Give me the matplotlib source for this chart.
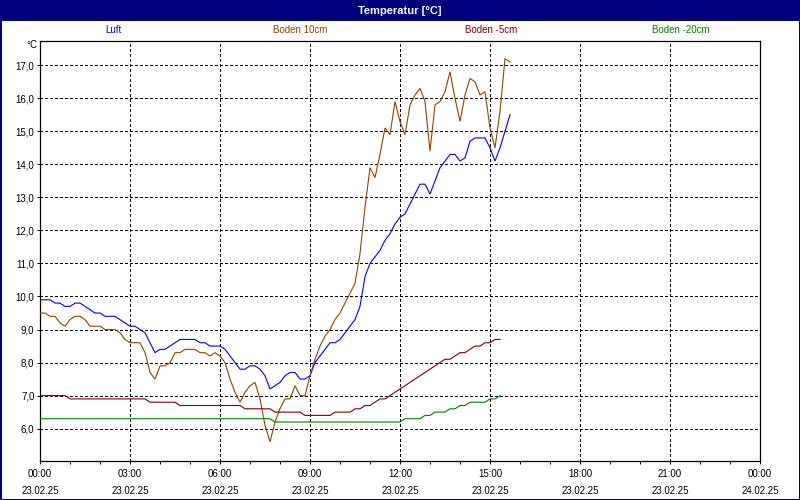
import numpy as np
import matplotlib.pyplot as plt
from matplotlib.patches import Rectangle
from matplotlib.ticker import MultipleLocator, FixedLocator, FuncFormatter

# time of each reading, minutes after 23.02.25 00:00 (10 minute log interval)
minutes_air = list(range(0, 950, 10))
minutes_soil = list(range(0, 930, 10))

# Luft
luft = [9.9, 9.9, 9.9, 9.8, 9.8, 9.7, 9.7, 9.8, 9.8, 9.7,
        9.6, 9.5, 9.5, 9.4, 9.4, 9.4, 9.3, 9.2, 9.1, 9.1,
        9.0, 8.9, 8.6, 8.3, 8.4, 8.4, 8.5, 8.6, 8.7, 8.7,
        8.7, 8.7, 8.6, 8.6, 8.5, 8.5, 8.5, 8.4, 8.2, 8.0,
        7.8, 7.8, 7.9, 7.9, 7.8, 7.6, 7.2, 7.3, 7.4, 7.6,
        7.7, 7.7, 7.5, 7.5, 7.6, 8.0, 8.2, 8.4, 8.6, 8.6,
        8.7, 8.9, 9.1, 9.3, 9.7, 10.6, 11.0, 11.2, 11.4, 11.7,
        11.9, 12.2, 12.4, 12.5, 12.8, 13.1, 13.4, 13.4, 13.1, 13.5,
        13.9, 14.1, 14.3, 14.3, 14.1, 14.2, 14.7, 14.8, 14.8, 14.8,
        14.5, 14.1, 14.5, 15.0, 15.5]

# Boden 10cm
boden_10 = [9.5, 9.5, 9.4, 9.4, 9.2, 9.1, 9.3, 9.4, 9.4, 9.3,
            9.1, 9.1, 9.1, 9.0, 9.0, 9.0, 8.9, 8.7, 8.6, 8.6,
            8.6, 8.3, 7.7, 7.5, 7.9, 7.9, 8.0, 8.3, 8.3, 8.4,
            8.4, 8.4, 8.3, 8.3, 8.2, 8.3, 8.2, 8.0, 7.5, 7.1,
            6.8, 7.1, 7.3, 7.4, 6.9, 6.1, 5.6, 6.2, 6.6, 6.9,
            6.9, 7.3, 7.0, 7.0, 7.6, 8.1, 8.5, 8.8, 9.0, 9.3,
            9.5, 9.8, 10.1, 10.4, 11.3, 12.7, 13.9, 13.6, 14.3, 15.1,
            14.9, 15.9, 15.3, 14.9, 15.8, 16.1, 16.3, 15.9, 14.4, 15.8,
            15.9, 16.2, 16.8, 16.0, 15.3, 16.1, 16.6, 16.5, 16.1, 16.2,
            15.1, 14.5, 15.6, 17.2, 17.1]

# Boden -5cm
boden_5 = ([7.0] * 6 + [6.9] * 16 + [6.8] * 6 + [6.7] * 13 + [6.6] * 6
           + [6.5] * 6 + [6.4] * 6 + [6.5] * 4 + [6.6] * 2 + [6.7] * 2
           + [6.8, 6.9, 6.9, 7.0, 7.1, 7.2, 7.3, 7.4, 7.5, 7.6,
              7.7, 7.8, 7.9, 8.0, 8.1, 8.1, 8.2, 8.3, 8.3, 8.4,
              8.5, 8.5, 8.6, 8.6, 8.7, 8.7])

# Boden -20cm
boden_20 = ([6.3] * 47 + [6.2] * 26 + [6.3] * 4 + [6.4] * 2 + [6.5] * 3
            + [6.6] * 2 + [6.7] * 2 + [6.8] * 4 + [6.9] * 2 + [7.0])

series_names = ['Luft', 'Boden 10cm', 'Boden -5cm', 'Boden -20cm']
series_colors = ['#0000ff', '#8c4600', '#800000', '#008000']

x_tick_times = ['00:00', '03:00', '06:00', '09:00', '12:00',
                '15:00', '18:00', '21:00', '00:00']
x_tick_dates = ['23.02.25'] * 8 + ['24.02.25']

navy = '#000080'
font = 'Liberation Sans'

fig = plt.figure(figsize=(8, 5), dpi=100)
fig.patch.set_facecolor('white')

# title bar and window frame
fig.patches.append(Rectangle((0, 1 - 21 / 500), 1, 21 / 500,
                             transform=fig.transFigure, facecolor=navy,
                             edgecolor='none', zorder=0))
fig.patches.append(Rectangle((0, 0), 1, 1, transform=fig.transFigure,
                             fill=False, edgecolor=navy, lw=2.2, zorder=5))
fig.text(0.5, 1 - 10.5 / 500, 'Temperatur [°C]', color='white',
         ha='center', va='center', fontsize=8, fontweight='bold',
         family=font)

# legend row
legend_x = [113, 300, 491, 681]
for name, color, px in zip(series_names, series_colors, legend_x):
    fig.text(px / 800, 1 - 30 / 500, name, color=color, ha='center',
             va='center', fontsize=7, family=font)

ax = fig.add_axes([40 / 800, 39 / 500, 720 / 800, 420.5 / 500])
ax.set_xlim(0, 24)
ax.set_ylim(5.02, 17.75)

hours_air = np.array(minutes_air) / 60
hours_soil = np.array(minutes_soil) / 60
data = [(hours_air, luft), (hours_air, boden_10),
        (hours_soil, boden_5), (hours_soil, boden_20)]
for (hx, vals), color in zip(data, series_colors):
    ax.plot(hx, vals, color=color, lw=0.8, solid_joinstyle='miter', zorder=3)

ax.xaxis.set_major_locator(FixedLocator(np.arange(0, 25, 3)))
ax.xaxis.set_minor_locator(MultipleLocator(1))
ax.set_xticklabels([f'{t}\n{d}' for t, d in zip(x_tick_times, x_tick_dates)],
                   linespacing=1.85)
ax.yaxis.set_major_locator(MultipleLocator(1))
ax.yaxis.set_major_formatter(FuncFormatter(lambda v, p: f'{v:.1f}'.replace('.', ',')))

ax.tick_params(axis='x', which='major', length=2.5, width=0.7, pad=3.2,
               labelsize=7, colors='black')
ax.tick_params(axis='x', which='minor', length=2, width=0.7)
ax.tick_params(axis='y', length=2, width=0.7, pad=2, labelsize=7)
for lbl in ax.get_xticklabels() + ax.get_yticklabels():
    lbl.set_family(font)

ax.grid(True, which='major', color='black', linestyle=(0, (3, 3)),
        lw=0.6, antialiased=False)
ax.set_axisbelow(True)
for sp in ax.spines.values():
    sp.set_linewidth(0.9)

fig.text(37 / 800, 1 - 45 / 500, '°C', ha='right', va='center',
         fontsize=7, family=font)

fig.savefig('out.png', dpi=100)
